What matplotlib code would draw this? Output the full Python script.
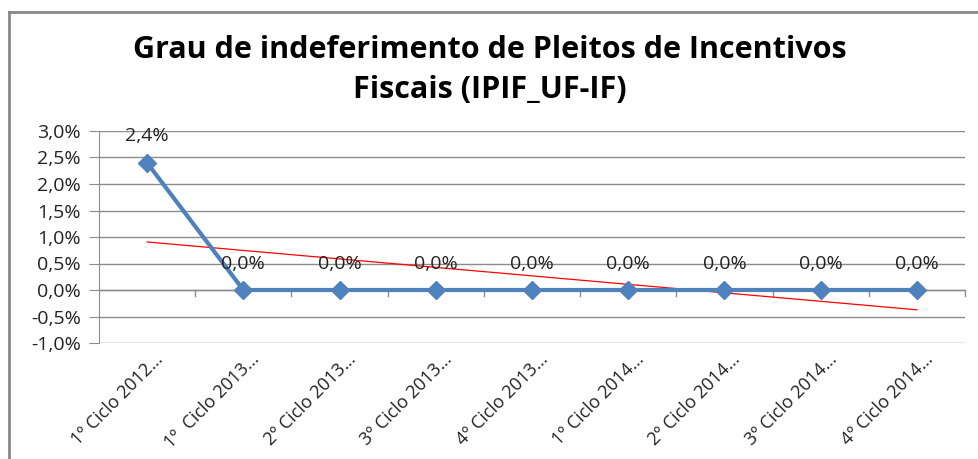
import numpy as np
import matplotlib
matplotlib.use("Agg")
import matplotlib.pyplot as plt
from matplotlib.lines import Line2D

categories = ["1º Ciclo 2012…", "1º  Ciclo 2013…", "2º Ciclo 2013…", "3º Ciclo 2013…",
              "4º Ciclo 2013…", "1º Ciclo 2014…", "2º Ciclo 2014…", "3º Ciclo 2014…",
              "4º Ciclo 2014…"]
values = [2.4, 0.0, 0.0, 0.0, 0.0, 0.0, 0.0, 0.0, 0.0]
yticks = [-1.0, -0.5, 0.0, 0.5, 1.0, 1.5, 2.0, 2.5, 3.0]
title = "Grau de indeferimento de Pleitos de Incentivos\nFiscais (IPIF_UF-IF)"

plt.rcParams['font.family'] = ['Open Sans', 'DejaVu Sans']

fig = plt.figure(figsize=(9.79, 4.59), dpi=100)
ax = fig.add_axes([99/979, 1-343/459, 866/979, 212/459])

x = np.arange(len(values))
blue = "#4F81BD"

# trend line
coef = np.polyfit(x, values, 1)
ax.plot(x, np.polyval(coef, x), color="#FF0000", lw=0.9, zorder=2)

ax.plot(x, values, color=blue, lw=3, marker="D", ms=9, zorder=3)

for xi, v in zip(x, values):
    ax.annotate(f"{v:.1f}%".replace(".", ","), (xi, v), xytext=(0, 19),
                textcoords="offset points", ha="center", va="center",
                fontsize=14, color="#222222")

ax.set_xlim(-0.5, len(values) - 0.5)
ax.set_ylim(yticks[0], yticks[-1])
ax.set_yticks(yticks)
ax.set_yticklabels([f"{t:.1f}%".replace(".", ",") for t in yticks], fontsize=14)
ax.yaxis.grid(True, color="#8c8c8c", lw=1)
ax.set_axisbelow(True)
for s in ["top", "right", "bottom"]:
    ax.spines[s].set_visible(False)
ax.spines["left"].set_color("#8c8c8c")
ax.tick_params(axis="y", length=7, color="#8c8c8c", pad=6, labelcolor="#222222")

# x axis at zero with category boundary ticks
ax.axhline(0, color="#8c8c8c", lw=1, zorder=1)
ax.set_xticks([])
for b in np.arange(0.5, len(values), 1.0):
    ax.plot([b, b], [0, -0.12], color="#8c8c8c", lw=1, zorder=1, clip_on=False)

for xi, lab in zip(x, categories):
    ax.annotate(lab, (xi, yticks[0]), xytext=(5, -5), textcoords="offset points",
                rotation=45, ha="right", va="top", rotation_mode="anchor",
                fontsize=13, color="#222222", annotation_clip=False)

fig.text(0.5, 1 - 70/459, title, ha="center", va="center", fontsize=22,
         fontweight="bold", linespacing=1.4)

# chart frame
fig.add_artist(Line2D([9/979, 9/979], [0, 1 - 12/459], color="#888888", lw=2,
                      transform=fig.transFigure))
fig.add_artist(Line2D([9/979, 1], [1 - 12/459, 1 - 12/459], color="#888888", lw=2,
                      transform=fig.transFigure))

fig.savefig("out.png", dpi=100)
